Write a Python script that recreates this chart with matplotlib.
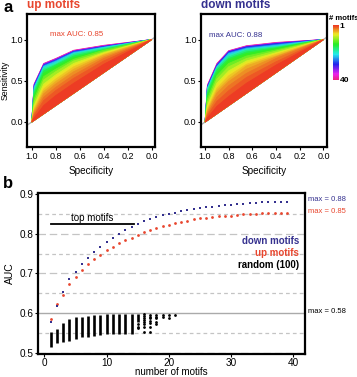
import colorsys
import numpy as np
import matplotlib
matplotlib.use("Agg")
import matplotlib.pyplot as plt
from matplotlib.colors import ListedColormap
from matplotlib.transforms import blended_transform_factory

plt.rcParams['font.family'] = ['Liberation Sans', 'DejaVu Sans']

# ---- panel a: ROC curves (specificity grid shared by all curves) ----
roc_spec = [1.0, 0.98, 0.9, 0.8, 0.65, 0.4, 0.0]
roc_n = [1, 2, 3, 4, 5, 6, 7, 8, 10, 12, 14, 16, 18, 20, 23, 26, 29, 32, 36, 40]

# sensitivity at spec 0.98, 0.9, 0.8, 0.65, 0.4 (ends are 0 and 1)
up_sens = [
    [0.05, 0.20, 0.32, 0.47, 0.70],
    [0.08, 0.26, 0.38, 0.53, 0.74],
    [0.10, 0.30, 0.42, 0.57, 0.77],
    [0.12, 0.34, 0.46, 0.61, 0.79],
    [0.14, 0.37, 0.49, 0.64, 0.81],
    [0.16, 0.40, 0.52, 0.67, 0.82],
    [0.18, 0.43, 0.55, 0.69, 0.83],
    [0.20, 0.46, 0.57, 0.71, 0.84],
    [0.24, 0.51, 0.61, 0.74, 0.85],
    [0.28, 0.55, 0.64, 0.76, 0.87],
    [0.32, 0.59, 0.67, 0.78, 0.87],
    [0.35, 0.62, 0.69, 0.80, 0.88],
    [0.38, 0.64, 0.70, 0.82, 0.89],
    [0.40, 0.66, 0.72, 0.83, 0.90],
    [0.42, 0.675, 0.735, 0.84, 0.905],
    [0.43, 0.685, 0.745, 0.85, 0.91],
    [0.44, 0.69, 0.75, 0.855, 0.915],
    [0.45, 0.70, 0.76, 0.86, 0.92],
    [0.455, 0.705, 0.765, 0.865, 0.925],
    [0.46, 0.71, 0.77, 0.87, 0.93],
]
down_sens = [
    [0.05, 0.19, 0.31, 0.47, 0.69],
    [0.08, 0.25, 0.38, 0.54, 0.73],
    [0.10, 0.30, 0.44, 0.59, 0.77],
    [0.12, 0.35, 0.49, 0.64, 0.79],
    [0.14, 0.38, 0.52, 0.68, 0.80],
    [0.16, 0.41, 0.56, 0.70, 0.82],
    [0.18, 0.44, 0.59, 0.72, 0.83],
    [0.20, 0.47, 0.62, 0.74, 0.84],
    [0.24, 0.52, 0.67, 0.77, 0.86],
    [0.28, 0.56, 0.71, 0.80, 0.875],
    [0.32, 0.60, 0.75, 0.83, 0.89],
    [0.35, 0.63, 0.77, 0.85, 0.90],
    [0.38, 0.65, 0.79, 0.87, 0.91],
    [0.40, 0.66, 0.81, 0.88, 0.915],
    [0.41, 0.67, 0.83, 0.89, 0.93],
    [0.42, 0.68, 0.84, 0.90, 0.94],
    [0.43, 0.69, 0.85, 0.91, 0.95],
    [0.435, 0.695, 0.855, 0.915, 0.955],
    [0.44, 0.70, 0.86, 0.92, 0.96],
    [0.45, 0.71, 0.865, 0.925, 0.965],
]

# ---- panel b: AUC versus number of motifs ----
motif_n = list(range(1, 40))
up_auc = [0.585, 0.623, 0.646, 0.673, 0.692, 0.709, 0.724, 0.736, 0.745, 0.758,
          0.766, 0.776, 0.784, 0.790, 0.797, 0.803, 0.810, 0.814, 0.820, 0.823,
          0.828, 0.830, 0.832, 0.836, 0.839, 0.840, 0.842, 0.844, 0.845, 0.845,
          0.847, 0.849, 0.850, 0.850, 0.851, 0.851, 0.851, 0.852, 0.852]
down_auc = [0.578, 0.618, 0.652, 0.685, 0.704, 0.723, 0.738, 0.753, 0.767, 0.779,
            0.790, 0.800, 0.810, 0.818, 0.824, 0.831, 0.837, 0.842, 0.846, 0.850,
            0.853, 0.856, 0.860, 0.861, 0.864, 0.866, 0.867, 0.870, 0.872, 0.872,
            0.874, 0.876, 0.877, 0.878, 0.880, 0.880, 0.880, 0.880, 0.880]

# random motif sets: dense columns (min..max) and single scattered points
rand_n = list(range(1, 16))
rand_lo = [0.515, 0.524, 0.526, 0.530, 0.535, 0.539, 0.540, 0.542, 0.545, 0.546,
           0.546, 0.547, 0.548, 0.548, 0.578]
rand_hi = [0.553, 0.559, 0.576, 0.584, 0.589, 0.591, 0.592, 0.594, 0.596, 0.597,
           0.597, 0.597, 0.597, 0.597, 0.597]
sparse_n = [15, 15, 15,
            16, 16, 16, 16, 16, 16, 16, 16,
            17, 17, 17, 17, 17, 17, 17,
            18, 18, 18, 18, 18,
            19, 19, 20, 20, 21]
sparse_auc = [0.572, 0.566, 0.561,
              0.597, 0.592, 0.588, 0.583, 0.578, 0.572, 0.566, 0.553,
              0.596, 0.591, 0.587, 0.581, 0.574, 0.566, 0.553,
              0.596, 0.591, 0.587, 0.578, 0.572,
              0.596, 0.590, 0.596, 0.587, 0.596]
random_max = 0.6
top_motifs_x = [1, 14.4]
top_motifs_y = 0.824

UP_COL = '#e8462e'
DOWN_COL = '#35318f'


def motif_color(n):
    h = 0.02 + 0.90 * (n - 1) / 39.0
    return colorsys.hsv_to_rgb(h, 0.85, 0.93)


def draw_roc(ax, sens_table, title, tcol, auc_label, auc_xy, ylabel):
    ax.axline((1, 0), (0, 1), color='#b0b0b0', lw=1.0, zorder=1)
    for n, s in reversed(list(zip(roc_n, sens_table))):
        c = motif_color(n)
        ax.fill(roc_spec, [0.0] + s + [1.0], facecolor=c, edgecolor=c, lw=0.6, zorder=2)
    ax.set_xlim(1.037, -0.028)
    ax.set_ylim(-0.30, 1.31)
    ax.set_xticks([1.0, 0.8, 0.6, 0.4, 0.2, 0.0])
    ax.set_xticklabels(['1.0', '0.8', '0.6', '0.4', '0.2', '0.0'])
    ax.set_yticks([0.0, 0.5, 1.0])
    ax.set_yticklabels(['0.0', '0.5', '1.0'])
    ax.tick_params(labelsize=6.5, length=2, width=0.8, pad=1.5)
    ax.tick_params(axis='y', pad=1)
    for sp in ax.spines.values():
        sp.set_linewidth(1.6)
    ax.set_xlabel('Specificity', fontsize=7.2)
    ax.xaxis.set_label_coords(0.5, -0.145)
    if ylabel:
        ax.set_ylabel('Sensitivity', fontsize=6.3, va='center')
        ax.yaxis.set_label_coords(-0.172, 0.5)
    ax.text(0.0, 1.02, title, transform=ax.transAxes, color=tcol, fontsize=8.5,
            fontweight='bold', ha='left', va='bottom')
    ax.text(auc_xy[0], auc_xy[1], auc_label, color=tcol, fontsize=5.7,
            ha='center', va='center')


fig = plt.figure(figsize=(3.57, 3.77), dpi=100)

ax1 = fig.add_axes([27.3 / 357, 1 - 146.7 / 377, 127.7 / 357, 132.7 / 377])
draw_roc(ax1, up_sens, 'up motifs', UP_COL, 'max AUC: 0.85', (0.625, 1.066), True)
ax2 = fig.add_axes([200.7 / 357, 1 - 146.7 / 377, 126 / 357, 132.7 / 377])
draw_roc(ax2, down_sens, 'down motifs', DOWN_COL, 'max AUC: 0.88', (0.74, 1.054), False)

# colour key
cax = fig.add_axes([333 / 357, 1 - 80 / 377, 6 / 357, 55 / 377])
cmap = ListedColormap([motif_color(n) for n in range(1, 41)])
cax.imshow(np.arange(1, 41).reshape(-1, 1), cmap=cmap, aspect='auto',
           extent=[0, 1, 40.5, 0.5])
cax.set_xticks([])
cax.set_yticks([1, 40])
cax.yaxis.tick_right()
cax.tick_params(length=0, pad=0.5, labelsize=6)
for lab in cax.get_yticklabels():
    lab.set_fontweight('bold')
for sp in cax.spines.values():
    sp.set_visible(False)
fig.text(329 / 357, 1 - 19 / 377, '# motifs', fontsize=5.5, fontweight='bold',
         ha='left', va='center')

# panel b
ax = fig.add_axes([38 / 357, 1 - 354 / 377, 267 / 357, 161 / 377])
for y in [0.55, 0.65, 0.75, 0.85]:
    ax.axhline(y, color='#c4c4c4', lw=0.9, dashes=(3, 2.5), zorder=0)
for y in [0.5, 0.7, 0.8]:
    ax.axhline(y, color='#c4c4c4', lw=0.9, dashes=(6, 3), zorder=0)
ax.axhline(random_max, color='#aaaaaa', lw=1.0, zorder=1)
ax.vlines(rand_n, rand_lo, rand_hi, colors='black', lw=1.9, zorder=2)
ax.plot(sparse_n, sparse_auc, 'o', color='black', ms=2.0, mew=0, zorder=2)
ax.plot(motif_n, up_auc, 'o', color=UP_COL, ms=2.0, mew=0, zorder=3)
ax.plot(motif_n, down_auc, 's', color=DOWN_COL, ms=1.7, mew=0, zorder=3)
ax.plot(top_motifs_x, [top_motifs_y, top_motifs_y], color='black', lw=1.3)
ax.text(np.mean(top_motifs_x), top_motifs_y + 0.002, 'top motifs', fontsize=7,
        ha='center', va='bottom')
ax.set_xlim(-1.04, 41.9)
ax.set_ylim(0.4967, 0.9025)
ax.set_xticks([0, 10, 20, 30, 40])
ax.set_yticks([0.5, 0.6, 0.7, 0.8, 0.9])
ax.set_yticklabels(['0.5', '0.6', '0.7', '0.8', '0.9'])
ax.tick_params(labelsize=7.2, length=2, width=0.8, pad=1)
for sp in ax.spines.values():
    sp.set_linewidth(1.6)
ax.set_xlabel('number of motifs', fontsize=7, va='center')
ax.xaxis.set_label_coords(0.5, -0.112)
ax.set_ylabel('AUC', fontsize=7.5, va='center')
ax.yaxis.set_label_coords(-0.105, 0.5)

ax.text(40.9, 0.7815, 'down motifs', color=DOWN_COL, fontsize=7, fontweight='bold',
        ha='right', va='center')
ax.text(40.9, 0.7513, 'up motifs', color=UP_COL, fontsize=7, fontweight='bold',
        ha='right', va='center')
ax.text(40.9, 0.721, 'random (100)', color='black', fontsize=7, fontweight='bold',
        ha='right', va='center')

tr = blended_transform_factory(ax.transAxes, ax.transData)
ax.text(1.011, 0.887, 'max = 0.88', transform=tr, color=DOWN_COL, fontsize=5.5,
        ha='left', va='center', clip_on=False)
ax.text(1.011, 0.857, 'max = 0.85', transform=tr, color=UP_COL, fontsize=5.5,
        ha='left', va='center', clip_on=False)
ax.text(1.011, 0.603, 'max = 0.58', transform=tr, color='black', fontsize=5.5,
        ha='left', va='center', clip_on=False)

fig.text(3 / 357, 1 - 7 / 377, 'a', fontsize=12, fontweight='bold', ha='left', va='center')
fig.text(3 / 357, 1 - 184 / 377, 'b', fontsize=12, fontweight='bold', ha='left', va='center')

fig.savefig('out.png', dpi=100)
